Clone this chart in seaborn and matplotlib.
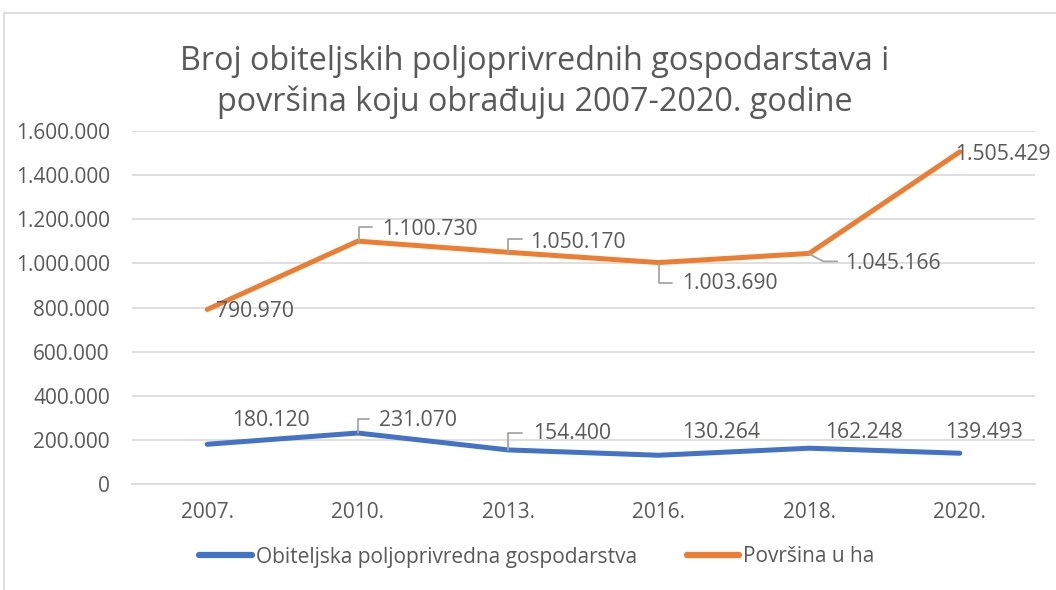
import matplotlib
matplotlib.use("Agg")
import matplotlib.pyplot as plt
import numpy as np
import pandas as pd
import seaborn as sns
from matplotlib.lines import Line2D
from matplotlib.ticker import FuncFormatter

years = ['2007.', '2010.', '2013.', '2016.', '2018.', '2020.']
gospodarstva = [180120, 231070, 154400, 130264, 162248, 139493]
povrsina = [790970, 1100730, 1050170, 1003690, 1045166, 1505429]
series_names = ['Obiteljska poljoprivredna gospodarstva', 'Površina u ha']
title = 'Broj obiteljskih poljoprivrednih gospodarstava i\npovršina koju obrađuju 2007-2020. godine'

# label offsets in pixels from the point (dx right, dy up), leader polylines
blue_text_off = [(25, 24), (21, 13), (25, 16), (23, 23), (16, 16), (-15, 21)]
blue_leaders = [None, [(0, 0), (0, 14), (11, 14)], [(0, 0), (0, 17), (14, 17)], None, None, None]
orange_text_off = [(9, -2), (24, 12), (22, 10), (23, -21), (36, -10), (-5, -3)]
orange_leaders = [None, [(1, 0), (1, 14), (14, 14)], [(0, -1), (0, 13), (14, 13)],
                  [(0, -1), (0, -20), (13, -20)], [(-1, 0), (14, -8), (28, -8)], None]

BLUE = '#4472C4'
ORANGE = '#ED7D31'
TXT = '#595959'
GRID = '#D9D9D9'


def dots(v):
    return f"{int(v):,}".replace(',', '.')


df = pd.DataFrame({
    'godina': years * 2,
    'vrijednost': gospodarstva + povrsina,
    'serija': [series_names[0]] * len(years) + [series_names[1]] * len(years),
})

sns.set_theme(style='white')
plt.rcParams['font.family'] = ['Open Sans', 'DejaVu Sans']

fig = plt.figure(figsize=(10.56, 5.9), dpi=100)
ax = fig.add_axes([132 / 1056, 1 - 484 / 590, (1035 - 132) / 1056, (484 - 131) / 590])

sns.lineplot(data=df, x='godina', y='vrijednost', hue='serija', sort=False,
             palette=[BLUE, ORANGE], linewidth=3.6, ax=ax, legend=False,
             solid_joinstyle='round', solid_capstyle='round')

ax.set_xlim(-0.5, len(years) - 0.5)
ax.set_ylim(0, 1600000)
ax.set_yticks(np.arange(0, 1600001, 200000))
ax.yaxis.set_major_formatter(FuncFormatter(lambda v, p: dots(v)))
ax.grid(axis='y', color=GRID, linewidth=1.2)
ax.grid(axis='x', visible=False)
ax.set_axisbelow(True)
for s in ['top', 'right', 'left']:
    ax.spines[s].set_visible(False)
ax.spines['bottom'].set_color(GRID)
ax.spines['bottom'].set_linewidth(1.2)
ax.tick_params(axis='y', labelsize=15, colors=TXT, pad=16, length=0)
ax.tick_params(axis='x', labelsize=15, colors=TXT, pad=13, length=0)
ax.set_xlabel('')
ax.set_ylabel('')

fig.canvas.draw()
for vals, offs, leaders in [(gospodarstva, blue_text_off, blue_leaders),
                            (povrsina, orange_text_off, orange_leaders)]:
    for i, v in enumerate(vals):
        px, py = ax.transData.transform((i, v))
        dx, dy = offs[i]
        fig.text(px + dx, py + dy, dots(v), transform=None, fontsize=15.2,
                 color=TXT, ha='left', va='center', zorder=5)
        if leaders[i] is not None:
            xs = [px + a for a, b in leaders[i]]
            ys = [py + b for a, b in leaders[i]]
            fig.add_artist(Line2D(xs, ys, transform=None, color='#A6A6A6', lw=1.3))

fig.suptitle(title, x=535 / 1056, y=1 - 82 / 590, va='center', fontsize=23.3,
             color=TXT, linespacing=1.33)

handles = [Line2D([], [], color=BLUE, lw=4.5, solid_capstyle='round'),
           Line2D([], [], color=ORANGE, lw=4.5, solid_capstyle='round')]
fig.legend(handles, series_names, loc='center', bbox_to_anchor=(537 / 1056, 1 - 557 / 590),
           ncol=2, frameon=False, fontsize=15, labelcolor=TXT, handlelength=2.5,
           handletextpad=0.2, columnspacing=2.4)

# chart frame (top and left visible)
fig.add_artist(Line2D([4 / 1056, 1], [1 - 13 / 590, 1 - 13 / 590], transform=fig.transFigure,
                      color=GRID, lw=1.2))
fig.add_artist(Line2D([4 / 1056, 4 / 1056], [0, 1 - 13 / 590], transform=fig.transFigure,
                      color=GRID, lw=1.2))

fig.savefig('out.png', dpi=100)
